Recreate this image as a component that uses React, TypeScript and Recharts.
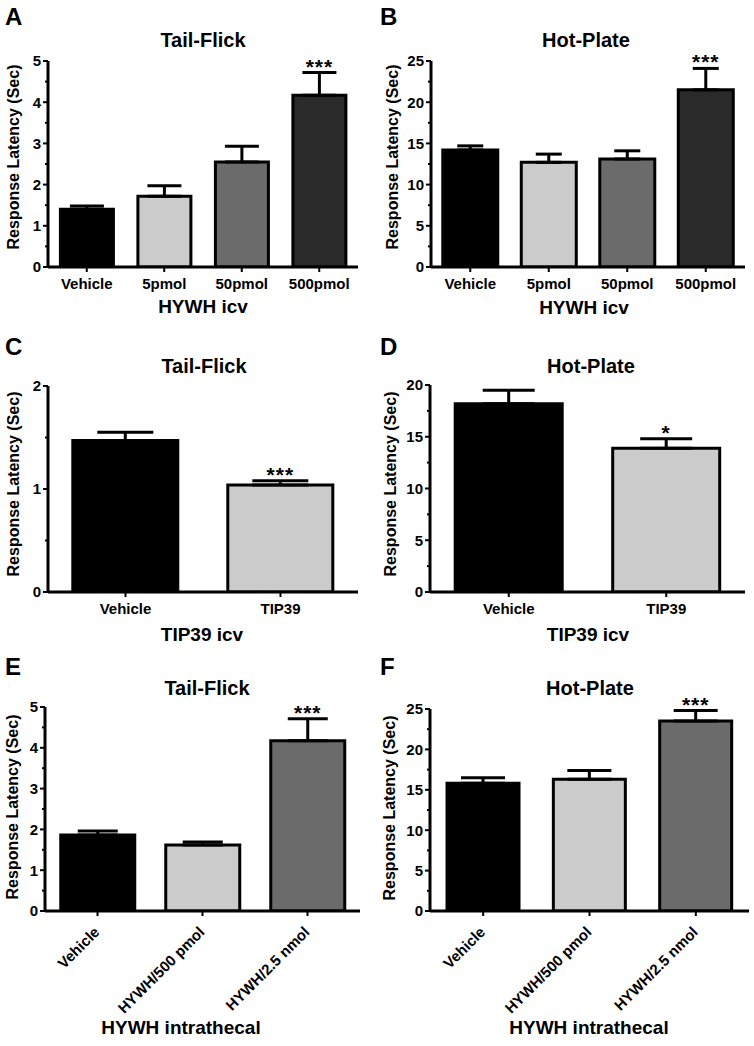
import React from "react";
import { BarChart, Bar, XAxis, YAxis, ErrorBar, Cell, LabelList } from "recharts";

const FONT = "'Liberation Sans', Arial, Helvetica, sans-serif";

// A / B : HYWH icv
const icvGroups = ["Vehicle", "5pmol", "50pmol", "500pmol"];
const icvFills = ["#000000", "#cbcbcb", "#6b6b6b", "#2a2a2a"];
const tailFlickIcvMean = [1.4, 1.72, 2.55, 4.17];
const tailFlickIcvSem = [0.08, 0.25, 0.38, 0.55];
const tailFlickIcvSig = ["", "", "", "***"];
const hotPlateIcvMean = [14.2, 12.7, 13.1, 21.5];
const hotPlateIcvSem = [0.5, 1.0, 1.0, 2.6];
const hotPlateIcvSig = ["", "", "", "***"];

// C / D : TIP39 icv
const tipGroups = ["Vehicle", "TIP39"];
const tipFills = ["#000000", "#cbcbcb"];
const tailFlickTipMean = [1.47, 1.04];
const tailFlickTipSem = [0.08, 0.04];
const tailFlickTipSig = ["", "***"];
const hotPlateTipMean = [18.2, 13.9];
const hotPlateTipSem = [1.3, 0.9];
const hotPlateTipSig = ["", "*"];

// E / F : HYWH intrathecal
const itGroups = ["Vehicle", "HYWH/500 pmol", "HYWH/2.5 nmol"];
const itFills = ["#000000", "#cbcbcb", "#6b6b6b"];
const tailFlickItMean = [1.86, 1.62, 4.17];
const tailFlickItSem = [0.1, 0.07, 0.54];
const tailFlickItSig = ["", "", "***"];
const hotPlateItMean = [15.8, 16.3, 23.5];
const hotPlateItSem = [0.7, 1.1, 1.3];
const hotPlateItSig = ["", "", "***"];

// y ticks
const tf5Major = [0, 1, 2, 3, 4, 5];
const tf5Minor = [0.5, 1.5, 2.5, 3.5, 4.5];
const hp25Major = [0, 5, 10, 15, 20, 25];
const hp25Minor = [2.5, 7.5, 12.5, 17.5, 22.5];
const tf2Major = [0, 1, 2];
const tf2Minor = [0.5, 1.5];
const hp20Major = [0, 5, 10, 15, 20];
const hp20Minor = [2.5, 7.5, 12.5, 17.5];

const Y_TICK_SIZE = 4;
const Y_TICK_MARGIN = 3;
const X_TICK_SIZE = 5;
const X_TICK_MARGIN = 2;

function makeRows(groups: string[], mean: number[], sem: number[], sig: string[]) {
  return groups.map((name, i) => ({
    name,
    mean: mean[i],
    sem: sem[i],
    err: [0, sem[i]],
    sig: sig[i],
  }));
}

const YTick = (props: any) => {
  const { x, y, payload, majors } = props;
  const axisX = x + Y_TICK_SIZE + Y_TICK_MARGIN;
  const major = majors.includes(payload.value);
  return (
    <g>
      <line x1={axisX - (major ? 5 : 3)} x2={axisX} y1={y} y2={y} stroke="#000" strokeWidth={2} />
      {major && (
        <text x={x} y={y} dy="0.36em" textAnchor="end" fontFamily={FONT} fontWeight="bold" fontSize={15} fill="#000">
          {payload.value}
        </text>
      )}
    </g>
  );
};

const XTick = (props: any) => {
  const { x, y, payload, rotated } = props;
  if (rotated) {
    const ax = x + 3;
    const ay = y + 15;
    return (
      <text x={ax} y={ay} transform={`rotate(-45 ${ax} ${ay})`} textAnchor="end" fontFamily={FONT} fontWeight="bold" fontSize={15} fill="#000">
        {payload.value}
      </text>
    );
  }
  return (
    <text x={x} y={y + 15} textAnchor="middle" fontFamily={FONT} fontWeight="bold" fontSize={15} fill="#000">
      {payload.value}
    </text>
  );
};

const Stars = (props: any) => {
  const vb = props.viewBox ?? props;
  const { index, rows } = props;
  const row = rows[index];
  if (!row || !row.sig) return null;
  const h = Math.abs(vb.height);
  const errTop = vb.y - (row.sem / row.mean) * h;
  return (
    <text x={vb.x + vb.width / 2} y={errTop + 1} textAnchor="middle" fontFamily={FONT} fontWeight="bold" fontSize={21} letterSpacing={1} fill="#000">
      {row.sig}
    </text>
  );
};

type PanelCfg = {
  key: string;
  letter: string;
  title: string;
  xLabel: string;
  rows: any[];
  fills: string[];
  yMax: number;
  majors: number[];
  minors: number[];
  left: number;
  plotLeft: number;
  plotRight: number;
  plotTop: number;
  plotBottom: number;
  capHalf: number;
  gap: string;
  rotated?: boolean;
  letterPos: [number, number];
  titlePos: [number, number];
  xLabelPos: [number, number];
  yLabelPos: [number, number];
};

const panels: PanelCfg[] = [
  {
    key: "A", letter: "A", title: "Tail-Flick", xLabel: "HYWH icv",
    rows: makeRows(icvGroups, tailFlickIcvMean, tailFlickIcvSem, tailFlickIcvSig),
    fills: icvFills, yMax: 5, majors: tf5Major, minors: tf5Minor,
    left: 0, plotLeft: 48, plotRight: 358, plotTop: 61, plotBottom: 267, capHalf: 17, gap: "16%",
    letterPos: [5, 25], titlePos: [203, 47], xLabelPos: [203, 313], yLabelPos: [13, 157],
  },
  {
    key: "B", letter: "B", title: "Hot-Plate", xLabel: "HYWH icv",
    rows: makeRows(icvGroups, hotPlateIcvMean, hotPlateIcvSem, hotPlateIcvSig),
    fills: icvFills, yMax: 25, majors: hp25Major, minors: hp25Minor,
    left: 377, plotLeft: 431, plotRight: 745, plotTop: 61, plotBottom: 267, capHalf: 13, gap: "15%",
    letterPos: [380, 25], titlePos: [586, 47], xLabelPos: [584, 314], yLabelPos: [392, 157],
  },
  {
    key: "C", letter: "C", title: "Tail-Flick", xLabel: "TIP39 icv",
    rows: makeRows(tipGroups, tailFlickTipMean, tailFlickTipSem, tailFlickTipSig),
    fills: tipFills, yMax: 2, majors: tf2Major, minors: tf2Minor,
    left: 0, plotLeft: 48, plotRight: 358, plotTop: 386, plotBottom: 592, capHalf: 28, gap: "16%",
    letterPos: [5, 355], titlePos: [204, 373], xLabelPos: [202, 641], yLabelPos: [13, 484],
  },
  {
    key: "D", letter: "D", title: "Hot-Plate", xLabel: "TIP39 icv",
    rows: makeRows(tipGroups, hotPlateTipMean, hotPlateTipSem, hotPlateTipSig),
    fills: tipFills, yMax: 20, majors: hp20Major, minors: hp20Minor,
    left: 377, plotLeft: 430, plotRight: 745, plotTop: 385, plotBottom: 592, capHalf: 26, gap: "16%",
    letterPos: [380, 355], titlePos: [591, 373], xLabelPos: [588, 641], yLabelPos: [390, 484],
  },
  {
    key: "E", letter: "E", title: "Tail-Flick", xLabel: "HYWH intrathecal",
    rows: makeRows(itGroups, tailFlickItMean, tailFlickItSem, tailFlickItSig),
    fills: itFills, yMax: 5, majors: tf5Major, minors: tf5Minor,
    left: 0, plotLeft: 45, plotRight: 360, plotTop: 707, plotBottom: 911, capHalf: 20, gap: "15%", rotated: true,
    letterPos: [5, 675], titlePos: [207, 695], xLabelPos: [181, 1034], yLabelPos: [12, 807],
  },
  {
    key: "F", letter: "F", title: "Hot-Plate", xLabel: "HYWH intrathecal",
    rows: makeRows(itGroups, hotPlateItMean, hotPlateItSem, hotPlateItSig),
    fills: itFills, yMax: 25, majors: hp25Major, minors: hp25Minor,
    left: 377, plotLeft: 430, plotRight: 749, plotTop: 709, plotBottom: 911, capHalf: 22, gap: "16%", rotated: true,
    letterPos: [380, 675], titlePos: [590, 695], xLabelPos: [589, 1034], yLabelPos: [389, 808],
  },
];

function Panel({ p }: { p: PanelCfg }) {
  const marginTop = 24;
  const chartTop = p.plotTop - marginTop;
  const xAxisH = p.rotated ? 110 : 30;
  const height = p.plotBottom - chartTop + xAxisH;
  const ticks = [...p.majors, ...p.minors].sort((a, b) => a - b);
  return (
    <div style={{ position: "absolute", left: p.left, top: chartTop }}>
      <BarChart
        width={377}
        height={height}
        data={p.rows}
        margin={{ top: marginTop, right: p.left + 377 - p.plotRight, bottom: 0, left: 0 }}
        barCategoryGap={p.gap}
      >
        <XAxis
          dataKey="name"
          height={xAxisH}
          interval={0}
          axisLine={{ stroke: "#000", strokeWidth: 3 }}
          tickLine={{ stroke: "#000", strokeWidth: 2 }}
          tickSize={X_TICK_SIZE}
          tickMargin={X_TICK_MARGIN}
          tick={(t: any) => <XTick {...t} rotated={p.rotated} />}
        />
        <YAxis
          width={p.plotLeft - p.left}
          domain={[0, p.yMax]}
          ticks={ticks}
          interval={0}
          allowDataOverflow
          axisLine={{ stroke: "#000", strokeWidth: 3 }}
          tickLine={false}
          tickSize={Y_TICK_SIZE}
          tickMargin={Y_TICK_MARGIN}
          tick={(t: any) => <YTick {...t} majors={p.majors} />}
        />
        <Bar dataKey="mean" stroke="#000" strokeWidth={3} isAnimationActive={false}>
          {p.rows.map((r, i) => (
            <Cell key={r.name} fill={p.fills[i]} />
          ))}
          <ErrorBar dataKey="err" width={p.capHalf} stroke="#000" strokeWidth={3} direction="y" />
          <LabelList dataKey="sig" content={(lp: any) => <Stars {...lp} rows={p.rows} />} />
        </Bar>
      </BarChart>
    </div>
  );
}

export default function App() {
  return (
    <div
      style={{
        position: "absolute",
        left: 0,
        top: 0,
        width: 754,
        height: 1046,
        background: "#fff",
        fontFamily: FONT,
        overflow: "hidden",
      }}
    >
      {panels.map((p) => (
        <Panel key={p.key} p={p} />
      ))}
      <svg width={754} height={1046} style={{ position: "absolute", left: 0, top: 0, pointerEvents: "none" }}>
        {panels.map((p) => (
          <g key={p.key} fontFamily={FONT} fontWeight="bold" fill="#000">
            <text x={p.letterPos[0]} y={p.letterPos[1]} fontSize={24}>
              {p.letter}
            </text>
            <text x={p.titlePos[0]} y={p.titlePos[1]} fontSize={20} textAnchor="middle">
              {p.title}
            </text>
            <text x={p.xLabelPos[0]} y={p.xLabelPos[1]} fontSize={19} textAnchor="middle">
              {p.xLabel}
            </text>
            <text
              x={p.yLabelPos[0]}
              y={p.yLabelPos[1]}
              fontSize={16}
              textAnchor="middle"
              dominantBaseline="central"
              transform={`rotate(-90 ${p.yLabelPos[0]} ${p.yLabelPos[1]})`}
            >
              Response Latency (Sec)
            </text>
          </g>
        ))}
      </svg>
    </div>
  );
}
